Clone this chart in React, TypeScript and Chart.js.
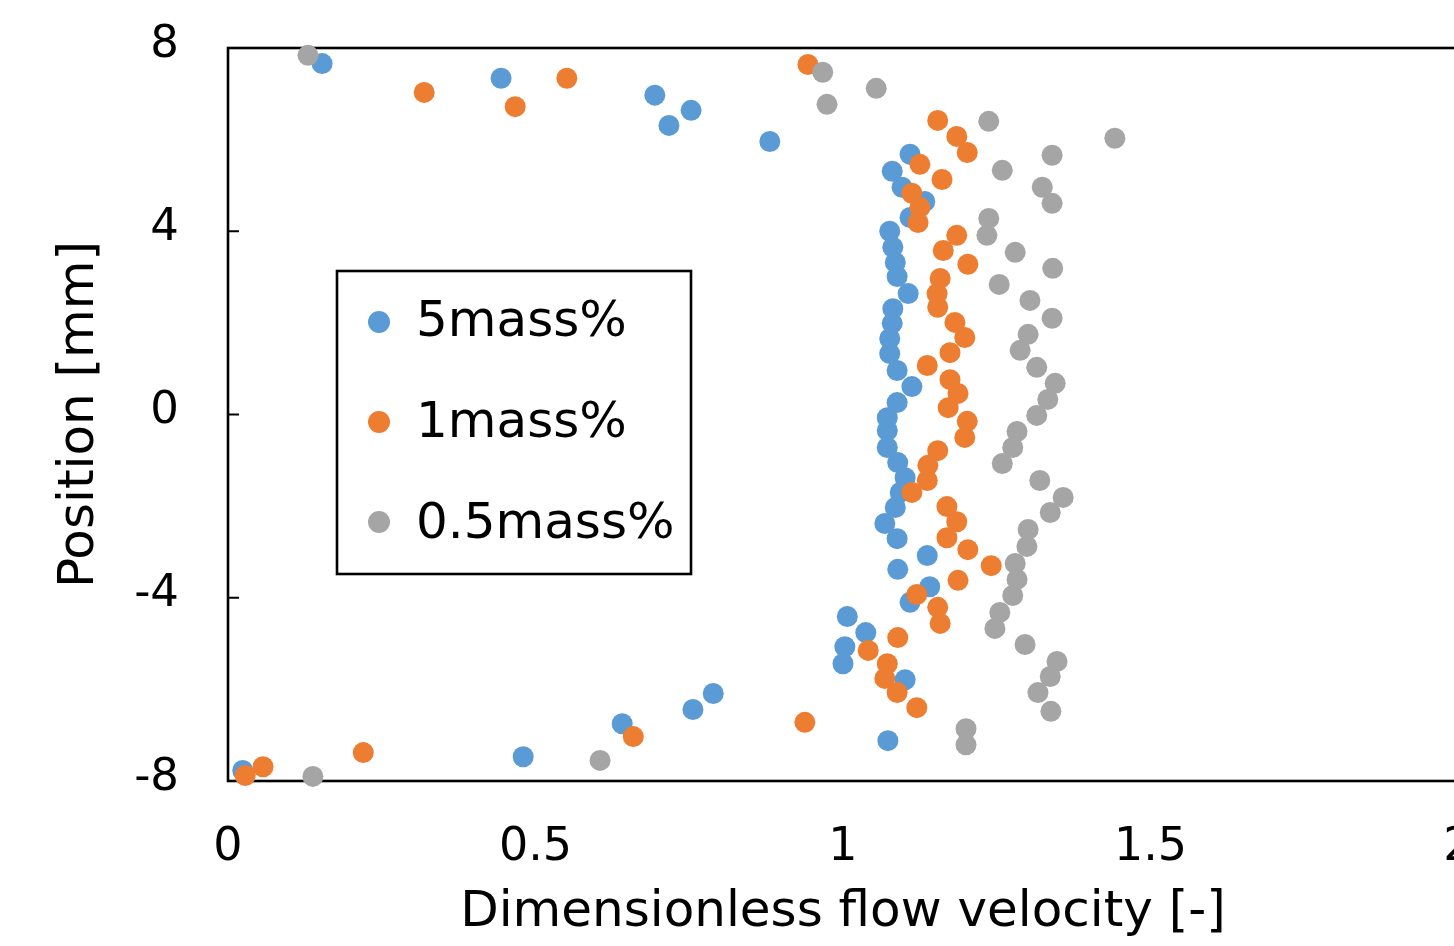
import React, { useEffect, useRef } from "react";
import { Chart, registerables } from "chart.js";

Chart.register(...registerables);

// ---- data ----
const seriesLabels = ["5mass%", "1mass%", "0.5mass%"];
const seriesColors = ["#5B9BD5", "#ED7D31", "#A5A5A5"];

const xAxisTitle = "Dimensionless flow velocity [-]";
const yAxisTitle = "Position [mm]";

const xTickValues = [0, 0.5, 1, 1.5, 2];
const xTickLabels = ["0", "0.5", "1", "1.5", "2"];
const yTickValues = [-8, -4, 0, 4, 8];
const yTickLabels = ["-8", "-4", "0", "4", "8"];

const blueVelocity = [
  0.153, 0.444, 0.694, 0.753, 0.717, 0.881, 1.109, 1.08, 1.096, 1.133, 1.109, 1.076,
  1.081, 1.085, 1.088, 1.106, 1.081, 1.08, 1.076, 1.076, 1.088, 1.112, 1.088, 1.072,
  1.072, 1.072, 1.089, 1.101, 1.093, 1.085, 1.068, 1.088, 1.137, 1.089, 1.141, 1.109,
  1.007, 1.037, 1.003, 1.0, 1.101, 0.789, 0.756, 0.641, 1.073, 0.48, 0.024,
];
const bluePosition = [
  7.66, 7.34, 6.97, 6.64, 6.31, 5.96, 5.68, 5.31, 4.96, 4.65, 4.3, 4.0,
  3.65, 3.32, 3.01, 2.64, 2.31, 1.99, 1.66, 1.33, 0.96, 0.61, 0.26, -0.07,
  -0.35, -0.72, -1.05, -1.38, -1.7, -2.03, -2.38, -2.71, -3.08, -3.38, -3.76, -4.1,
  -4.41, -4.76, -5.07, -5.44, -5.79, -6.09, -6.44, -6.75, -7.12, -7.47, -7.77,
];

const orangeVelocity = [
  0.943, 0.551, 0.319, 0.467, 1.154, 1.185, 1.202, 1.125, 1.161, 1.112, 1.125, 1.122,
  1.185, 1.163, 1.203, 1.158, 1.153, 1.154, 1.182, 1.198, 1.174, 1.137, 1.174, 1.187,
  1.171, 1.202, 1.198, 1.154, 1.138, 1.137, 1.112, 1.169, 1.185, 1.169, 1.203, 1.241,
  1.187, 1.12, 1.154, 1.158, 1.089, 1.041, 1.072, 1.068, 1.088, 1.12, 0.938, 0.659,
  0.22, 0.057, 0.028,
];
const orangePosition = [
  7.64, 7.34, 7.03, 6.72, 6.42, 6.07, 5.72, 5.46, 5.13, 4.83, 4.52, 4.19,
  3.91, 3.58, 3.28, 2.97, 2.64, 2.34, 2.01, 1.68, 1.35, 1.07, 0.76, 0.46,
  0.15, -0.15, -0.5, -0.79, -1.11, -1.44, -1.7, -2.01, -2.34, -2.69, -2.95, -3.3,
  -3.62, -3.93, -4.21, -4.56, -4.87, -5.15, -5.44, -5.76, -6.07, -6.4, -6.72, -7.03,
  -7.38, -7.69, -7.88,
];

const grayVelocity = [
  0.13, 0.967, 1.054, 0.974, 1.237, 1.442, 1.34, 1.259, 1.324, 1.34, 1.237, 1.234,
  1.28, 1.341, 1.254, 1.304, 1.34, 1.301, 1.288, 1.315, 1.345, 1.333, 1.315, 1.283,
  1.276, 1.259, 1.32, 1.358, 1.337, 1.301, 1.299, 1.28, 1.283, 1.276, 1.255, 1.247,
  1.296, 1.348, 1.337, 1.317, 1.338, 1.2, 1.2, 0.605, 0.138,
];
const grayPosition = [
  7.84, 7.47, 7.12, 6.77, 6.4, 6.03, 5.66, 5.33, 4.96, 4.61, 4.28, 3.91,
  3.54, 3.19, 2.84, 2.49, 2.1, 1.75, 1.4, 1.03, 0.68, 0.33, -0.02, -0.37,
  -0.72, -1.07, -1.44, -1.81, -2.14, -2.51, -2.88, -3.25, -3.6, -3.95, -4.32, -4.67,
  -5.02, -5.39, -5.72, -6.07, -6.48, -6.86, -7.21, -7.55, -7.9,
];

const FONT = "'DejaVu Sans', Verdana, sans-serif";

function toPoints(xs: number[], ys: number[]) {
  return xs.map((x, i) => ({ x, y: ys[i] }));
}

function labelFor(values: number[], labels: string[]) {
  return (v: number | string) => {
    const idx = values.findIndex((t) => Math.abs(t - Number(v)) < 1e-9);
    return idx >= 0 ? labels[idx] : "";
  };
}

const framePlugin = {
  id: "frameAndTicks",
  beforeDatasetsDraw(chart: any) {
    const { ctx, chartArea } = chart;
    const yScale = chart.scales.y;
    ctx.save();
    ctx.strokeStyle = "#000";
    ctx.lineWidth = 2.6;
    ctx.strokeRect(chartArea.left, chartArea.top, chartArea.right - chartArea.left, chartArea.bottom - chartArea.top);
    ctx.lineWidth = 2;
    yScale.ticks.forEach((t: any) => {
      const py = yScale.getPixelForValue(t.value);
      ctx.beginPath();
      ctx.moveTo(chartArea.left, py);
      ctx.lineTo(chartArea.left + 11, py);
      ctx.stroke();
    });
    ctx.restore();
  },
};

const legendPlugin = {
  id: "boxLegend",
  afterDatasetsDraw(chart: any) {
    const { ctx, chartArea } = chart;
    const left = chartArea.left + 109;
    const top = chartArea.top + 223;
    const w = 354;
    const h = 303;
    ctx.save();
    ctx.fillStyle = "#fff";
    ctx.fillRect(left, top, w, h);
    ctx.strokeStyle = "#000";
    ctx.lineWidth = 2.6;
    ctx.strokeRect(left, top, w, h);
    ctx.font = `50px ${FONT}`;
    ctx.textBaseline = "alphabetic";
    ctx.textAlign = "left";
    chart.data.datasets.forEach((ds: any, i: number) => {
      const cy = top + 51 + i * 100;
      ctx.fillStyle = ds.backgroundColor;
      ctx.beginPath();
      ctx.arc(left + 42, cy, 11, 0, Math.PI * 2);
      ctx.fill();
      ctx.fillStyle = "#000";
      ctx.fillText(ds.label, left + 79, top + 65 + i * 101);
    });
    ctx.restore();
  },
};

export default function App() {
  const canvasRef = useRef<HTMLCanvasElement | null>(null);

  useEffect(() => {
    const canvas = canvasRef.current;
    if (!canvas) return;
    const seriesData = [
      toPoints(blueVelocity, bluePosition),
      toPoints(orangeVelocity, orangePosition),
      toPoints(grayVelocity, grayPosition),
    ];
    const chart = new Chart(canvas, {
      type: "scatter",
      data: {
        datasets: seriesData.map((d, i) => ({
          label: seriesLabels[i],
          data: d,
          backgroundColor: seriesColors[i],
          borderColor: seriesColors[i],
          borderWidth: 0,
          pointRadius: 10.5,
          pointHoverRadius: 10.5,
          clip: false,
          order: 3 - i,
        })),
      },
      options: {
        responsive: false,
        animation: false,
        events: [],
        layout: { padding: { top: 48, right: 62, left: 0, bottom: 0 } },
        plugins: {
          legend: { display: false },
          title: { display: false },
          tooltip: { enabled: false },
        },
        scales: {
          x: {
            type: "linear",
            min: xTickValues[0],
            max: xTickValues[xTickValues.length - 1],
            ticks: {
              stepSize: xTickValues[1] - xTickValues[0],
              color: "#000",
              padding: 0,
              font: { family: FONT, size: 46 },
              callback: labelFor(xTickValues, xTickLabels),
            },
            grid: {
              display: true,
              drawOnChartArea: false,
              drawTicks: true,
              tickLength: 39,
              tickColor: "rgba(0,0,0,0)",
            },
            border: { display: false },
            title: {
              display: true,
              text: xAxisTitle,
              color: "#000",
              font: { family: FONT, size: 50 },
              padding: { top: 0, bottom: 3 },
            },
            afterFit: (s: any) => {
              s.height = 165;
            },
          },
          y: {
            type: "linear",
            min: yTickValues[0],
            max: yTickValues[yTickValues.length - 1],
            ticks: {
              stepSize: yTickValues[1] - yTickValues[0],
              color: "#000",
              padding: 0,
              labelOffset: -3,
              font: { family: FONT, size: 45 },
              callback: labelFor(yTickValues, yTickLabels),
            },
            grid: {
              display: true,
              drawOnChartArea: false,
              drawTicks: true,
              tickLength: 49,
              tickColor: "rgba(0,0,0,0)",
            },
            border: { display: false },
            title: {
              display: true,
              text: yAxisTitle,
              color: "#000",
              font: { family: FONT, size: 50 },
              padding: { top: 50, bottom: 0 },
            },
            afterFit: (s: any) => {
              s.width = 228;
            },
          },
        },
      },
      plugins: [framePlugin, legendPlugin],
    } as any);
    return () => chart.destroy();
  }, []);

  return (
    <div
      style={{
        position: "fixed",
        left: 0,
        top: 0,
        width: "100vw",
        height: "100vh",
        overflow: "hidden",
        background: "#fff",
      }}
    >
      <canvas
        ref={canvasRef}
        width={1520}
        height={946}
        style={{ display: "block", width: 1520, height: 946 }}
      />
    </div>
  );
}
